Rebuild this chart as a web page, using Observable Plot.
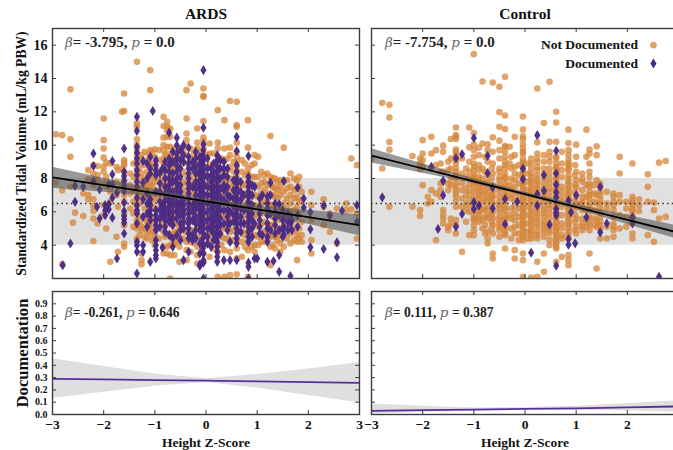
<!DOCTYPE html>
<html><head><meta charset="utf-8">
<script src="https://cdn.jsdelivr.net/npm/d3@7"></script>
<script src="https://cdn.jsdelivr.net/npm/@observablehq/plot@0.6"></script>
<style>
html,body{margin:0;padding:0;background:#fff;overflow:hidden;width:673px;height:450px}
#page{position:relative;width:673px;height:450px;overflow:hidden;font-family:"Liberation Serif",serif;color:#111}
#page>div{position:absolute}
#page svg{display:block;overflow:visible;background:transparent;max-width:none !important}
.t{font-weight:bold;font-size:15.5px;white-space:nowrap;transform:translateX(-50%)}
.n{font-weight:bold;font-size:15px;white-space:nowrap;color:#222}
.n.s{font-size:13.6px}
.n i{font-weight:normal;color:#666;font-family:"DejaVu Serif","Liberation Serif",serif;font-size:13.5px}
</style></head><body><div id="page"></div>
<script>
const ardsNotDoc=[
[-2.93,[10.65,7.75]],[-2.81,[10.6,7.3,2.85]],[-2.65,[13.35,10.35,9.3,7.5]],[-2.6,[5.35]],[-2.56,[5.95]],[-2.4,[5.75,7.1]],[-2.3,[8.5,7.95,7.0,6.75]],
[-2.2,[8.8,8.3,7.6,6.75,6.35,6.05,5.6,4.25]],[-2.12,[8.75,8.2,7.9,5.3]],[-2.0,[11.6,10.3,9.8,9.25,8.7,8.4,7.7,6.4,5.8]],[-1.95,[8.95,8.1,7.5,5.0]],[-1.87,[8.9,7.2,6.6,3.0]],[-1.75,[8.7,7.8,7.0,4.5]],[-1.72,[8.5,7.3,6.3,3.6]],
[-1.6,[13.1,12.05,9.1,8.95,8.8,8.4,7.9,7.5,7.0,6.6,5.9,5.2,4.1,3.9]],[-1.64,[12.0,8.6,7.6]],[-1.48,[8.3,7.6,7.1,6.2]],
[-1.35,[15,11.3,11.1,10.35,10,9.75,9.4,9.0,8.6,8.3,7.9,7.5,7.2,6.8,6.4,6.0,5.5,5.2,5.0,4.4]],[-1.26,[9.4,8.9,8.3,7.4,6.9,5.1,4.9,3.5,3.1,2.85]],[-1.15,[9.1,8.4,7.6,7.2,5.4,4.8,4.4]],
[-1.09,[14.5,13.3,9.7,9.3,8.8,8.0,7.5,7.1,6.6,5.2,4.7]],[-1.0,[9.75,9.3,8.6,8.1,7.8,7.2,6.7,6.2,5.6,4.6,4.0]],[-.83,[11.7,11.15,10.45,10,9.7,9.2,8.9,8.4,7.9,7.5,7.0,6.6,6.2,5.7,5.2,4.8,3.9,3.5]],
[-.76,[11.4,11.1,10.9,10.5,9.9,9.5,8.7,7.8,7.2,6.8,5.9,4.6,3.9,3.5]],[-.7,[11.0,10.5,9.9,9.2,8.6,8.0,7.4,6.4,5.4,4.7,4.0,3.4,2.0]],[-.62,[9.8,9.1,8.5,7.9,7.3,6.7,6.1,5.4,4.7,4.1,3.4]],
[-.52,[9.8,9.2,8.7,8.1,7.5,7.0,6.4,5.9,5.1,4.5,3.9,3.0]],[-.38,[13.3,11.6,10.7,10.3,9.9,9.4,8.9,8.2,7.7,7.1,6.5,6.0,5.4,4.8,4.2,3.7,3.1]],[-.3,[13.7,9.8,9.2,8.6,8.0,7.4,6.9,6.3,5.6,4.9,4.2,3.6]],
[-.17,[11,10.15,9.8,9.3,8.8,8.1,7.6,7,6.4,5.8,5.1,4.5,3.9,3.4,2.9]],[-.05,[13.4,12.95,12.9,11.45,10.45,10.25,9.85,9.3,8.8,8.2,7.6,7,6.4,5.8,5.2,4.6,4,3.5,3,1.9]],[.07,[10.1,9.5,8.8,8,7.4,6.7,6.1,5.4,4.7,4.2,3.3]],
[.23,[12.1,10.15,9.8,9.3,8.9,8.2,7.6,7.1,6.5,5.9,5.2,4.6,4,3.6,2.1]],[.36,[11.5,9.8,9.1,8.4,7.8,7.2,6.5,5.8,5,4.4,3.7,2.1]],[.47,[12.65,9.85,9.4,8.7,8,7.5,6.9,6.2,5.5,4.8,4.2,3.6,2.2]],
[.6,[12.6,11.2,11.1,10.15,9.6,9.3,9,8.7,8.4,8.1,7.8,7.5,7.2,6.8,6.4,6,5.5,5,4.4,3.8,3.2,2.25]],[.7,[9.1,8.4,7.6,6.9,6.2,5.5,4.8,4.2,3.3]],[.82,[11.5,9.85,8.6,8.3,7.8,7.2,6.6,6,5.4,4.8,4.2,3.7,2.1]],
[.95,[9.4,8.9,8.1,7.6,7,6.4,5.8,5.2,4.6,4,3.6]],[1.02,[9.3,8.1,7.5,6.9,6.3,5.7,5.1,4.5,4]],[1.14,[8.2,7.8,7.3,6.6,6,5.4,4.8,4.2]],[1.26,[10.55,8.1,7.6,7,6.4,5.8,5.2,4.5,3.9,2.8]],
[1.35,[8.0,7.4,6.9,6.3,5.6,5.1,4.5,3.8]],[1.45,[7.9,7.5,7,6.2,5.6,5,4.6,4.1,3.6]],[1.52,[9.85,7.8,7.2,6.5,5.9,5.2,4.5,3.9]],[1.65,[8.3,7.5,7,6.5,6,5.3,4.7,4.1]],[1.78,[7.9,7.4,6.9,6.3,5.7,5.1,4.6,4.2,3.1]],[1.87,[7.2,6.7,5.4,4.6,4.2]],
[2.06,[7.2,6.4,5.5,4.3,3.5]],[2.3,[6.75,6.3,5.2]],[2.42,[5.9,4.8]],[2.56,[6.2,4.1]],[2.74,[6.5,6.1]],[2.84,[6.15,9.2]],[2.95,[8.8,5.9,4.4]]];
const ardsNotDocDense=[
[-1.42,[8.9,8.1,7.3,6.6,5.9,5.1]],[-1.3,[9.2,8.6,8.1,7.7,7.1,6.5,5.7,5.3,4.6]],[-1.2,[9.6,8.8,8,7.5,6.9,6.2,5.6,5,4.5]],[-1.12,[9.5,9,8.2,7.7,7,6.4,5.8,5.1]],[-1.05,[9.6,8.9,8.3,7.6,6.9,6.3,5.5,4.9,4.3]],
[-.92,[9.7,9.1,8.5,7.9,7.3,6.8,6.2,5.5,5,4.4]],[-.8,[9.4,8.7,8.1,7.6,6.9,6.4,5.8,5.3,4.5]],[-.66,[9.5,8.8,8.2,7.7,7,6.5,5.7,5.2,4.4,4]],[-.58,[9.3,8.6,7.8,7.1,6.6,5.9,5.3,4.8,4.2]],
[-.45,[9.6,9,8.4,7.8,7.3,6.7,6.1,5.5,4.9,4.4]],[-.24,[9.5,8.9,8.3,7.7,7.2,6.6,6.1,5.4,4.8,4.1]],[-.1,[9.6,9,8.4,7.9,7.3,6.7,6.1,5.5,4.9,4.3]],[.01,[9.4,8.7,8.2,7.7,7.1,6.4,5.9,5.2,4.6,4]],[.14,[9.5,8.9,8.4,7.9,7.3,6.8,6.2,5.6,5,4.4,3.8]],
[.3,[9.2,8.6,8.1,7.5,6.9,6.3,5.7,5.1,4.5,4]],[.42,[9.2,8.5,7.9,7.3,6.7,6.1,5.6,5,4.4]],[.54,[9,8.4,7.7,7.2,6.6,6,5.4,4.9,4.3]],[.76,[8.9,8.2,7.6,7,6.4,5.8,5.2,4.6,3.9]],[.89,[8.8,8.1,7.5,6.9,6.3,5.7,5.1,4.5,3.9]],
[1.08,[8.4,7.7,7.1,6.5,5.9,5.3,4.7,4.2]],[1.2,[8.3,7.6,7.1,6.6,5.9,5.3,4.8,4.3]],[1.31,[8,7.5,7,6.4,5.7,5.2,4.6,4]],[1.4,[7.8,7.3,6.8,6.1,5.5,4.9,4.3]],[1.58,[7.9,7.4,6.8,6.2,5.6,5,4.4]],[1.72,[8,7.3,6.8,6.1,5.5,4.9,4.3]],[1.82,[8.1,7.5,6.6,5.9,5,4.4]]];
const ardsDoc=[
[-2.8,[2.8]],[-2.65,[4.1]],[-2.56,[7.55,6.6]],[-2.4,[7.5]],[-2.2,[9.5,8.75,7.85]],[-2.13,[6.3]],[-2.08,[7.35,5.6]],[-1.97,[6.4,5.8,6.1]],[-1.9,[7.65,6.45,6.15]],[-1.83,[9.05,8.25,7.65,6.85,5.65]],[-1.74,[7.15,3.2]],
[-1.6,[9.8,8.4,8.15,7.85,7.55,7.25,6.55,6.05,5.75,5.55,5.35,4.7]],[-1.35,[11.7,10.85,9.9,9.55,9.2,8.9,8.5,8.2,7.8,7.5,6.85,6.4,6.1,5.9,5.3,4.2,4.0,3.6,2.3]],[-1.23,[9.05,7.75,6.75,5.7,4.0,3.6]],
[-1.09,[9.3,8.6,8.3,6.75,6.4,6.1,5.8,5.5,3.0]],[-1.04,[12.05]],[-.98,[9.1,8.8,8.5,8.2,7.2,6.1,5.8,5.5,5.2,4.9,4.3,4,3.7,3.4,3.2]],[-.85,[8.6,6.4,6.1,5.8,3.85]],
[-.72,[10.75,9.2,8.8,8.4,8,7.6,7.3,6.9,6.6,6.3,6,5.7,5.4,4.6]],[-.57,[10.45,10,9.5,9.2,8.8,8.4,8,7.7,7.4,7,6.6,6.3,6,5.6,4.6]],[-.44,[10,9.4,9,6.7,6.4,6.1,5.8,5.4,5,3.1]],
[-.34,[9.85,9.3,8.9,8.6,8.3,8,7.7,7.4,7.1,6.8,6.5,6.2,5.9,5.6,5.3,5,4.7,4.4,3.6]],[-.26,[9,8.6,7.5,6.4,6,5.5,4.6,4.3]],[-.12,[9.3,8.9,8.5,8.2,7.9,7.6,7.3,7,6.7,6.4,6.1,5.8,5.5,5.2,4.9,4.1,3.5,2.85,2.75]],
[-.05,[14.5,11.05,10.05,9.7,9.1,8.3,7.7,7.1,6.5,5.9,5.3,4.7,4,3.5,3.1,2.95,2]],[.1,[8.6,8.2,7.8,7.4,7,6.6,6.2,5.7,5.2,4.9,3.9]],[.22,[9.4,9.1,8.7,8.4,8.1,7.8,7.5,7.2,6.9,6.6,6.3,6,5.7,5.4,5.1,4.8,4.5,4.2,3.9,3.6,3.3,3.0]],
[.35,[9,8.6,8.2,7.6,7.3,6.7,6.1,5.3,3.1]],[.47,[6.9,6,5.3,4.2,3.1]],[.6,[10.5,9.65,8.8,8.4,8,7.7,7.4,7.1,6.8,6.5,6.2,5.9,5.6,5.3,5,4.7,4.4,4.1,3.1]],[.74,[7,6.1,5.3]],
[.83,[9.35,8.1,7.8,7.5,7.2,6.9,6.6,6.3,6,5.7,5.4,5.1,4.8,4.5,4.2,2.95,2.7,2]],[.95,[7.5,5.3,3.2]],[1,[3.2]],[1.1,[7,4.6]],[1.2,[6.5,4.5,3]],[1.26,[7.75,7,5.9,4.9]],[1.32,[3.05]],
[1.43,[6.45,5.8,4.9,3.4,2.4]],[1.52,[7.85,5.65,5.1,4.65]],[1.65,[5.7,5.3,2.15]],[1.68,[5.5,4.9]],[1.79,[7.45,5.8,5.1]],[1.91,[6.8,6.25]],[2.04,[5.97,4.95,3.87]],[2.3,[6.37,3.77]],[2.42,[5.77]],[2.56,[4.17,3.27]],[2.66,[6.07]],[2.95,[6.4,5.4]]];
const ardsDocDense=[
[-1.15,[8.9,8,7.1,6.5,5.9,5.1]],[-.9,[8.3,7.7,7.2,6.6,6.1,5.6,5.1]],[-.8,[9,8.5,8,7.5,7.1,6.7,6.2,5.9,5.5,5.1,4.8]],[-.65,[9.6,9,8.3,7.8,7.2,6.8,6.4,6,5.6,5.2,4.4,3.9]],[-.5,[9.7,9.1,8.6,8.1,7.6,7.2,6.9,6.5,6.2,5.8,5.3,4.9,4.3]],
[-.2,[9.6,9.2,8.7,8.3,7.8,7.4,7,6.6,6.2,5.7,5.3,4.9,4.4]],[-.06,[9.4,8.8,8.5,8,7.4,6.8,6.2,5.6,5,4.4,3.8]],[.03,[9.2,8.6,8.1,7.5,7,6.5,6,5.5,5,4.5,4.1]],[.15,[8.9,8.4,8,7.5,7.1,6.7,6.3,5.9,5.5,5.1,4.7,4.3]],[.28,[9.1,8.6,8,7.4,6.9,6.5,6.1,5.6,5.2,4.7]],
[.42,[8.6,8.1,7.5,7,6.5,6.1,5.7,5.3,4.9]],[.54,[7.9,7.3,6.8,6.3,5.8,5.4]],[.68,[7.8,7.2,6.7,6.2,5.7,5.3,4.8]],[.9,[7.6,7,6.4,5.9,5.5,5,4.5]],[1.05,[6.8,6.3,5.9,5.5,5.1,4.7]],[1.2,[6.9,6.2,5.8,5.3,5,4.2]],[1.35,[6.5,6,5.6,5.2,4.7]],[1.5,[6.1,5.5,5,4.5]],[1.6,[5.9,5.4,4.9]]];
const controlNotDoc=[
[-3,[9.2]],[-2.79,[12.54,8.6]],[-2.65,[12.42,11.66,10.19,9.73,6.3]],[-2.2,[9.35,6.3]],[-2.05,[9.2,8.9,8.55,6.1,5.75]],[-2,[10.3,9.5,9.1,8.7,7.6]],[-1.9,[6.5,6.9]],[-1.83,[10.5,9.5,8.6,7.3,6.6]],[-1.74,[9.7,8.8,7.1,4.3]],[-1.65,[8.9,8.4,7.7,7.3,6.9]],
[-1.6,[9.97,9.6,8.4,7.8,6.1,5.8,5.6,5.3]],[-1.5,[9,8.5,7.7,7.3,5.1,4.9]],[-1.45,[10.37,9.2,8.6,8,7.6,5.6,5.3]],[-1.35,[11.06,10.6,10.5,10.37,9.73,9.6,9.4,9.2,8.9,8.4,8,7.7,7.3,6.9,6.3,5.5,5.2,4.7]],[-1.23,[9.2,8.3,7.7,7.3,6.8,6.3,3.6]],
[-1.09,[11.06,9.87,9,8.4,8,7.6,7.2,6.8,6.4,6,4.6]],[-1,[15.46,10.73,10.03,9.7,9.3,8.9,8.5,8.2,7.9,7.5,7.2,6.9,5.8,5.5,5.2,4.9,4.6]],[-.9,[9.85,9.4,8.8,8.1,7.6,7.2,6.8,6.3,5.8,5.4]],[-.83,[13.82,10.1,8.6,8,7.5,7.1,6.6,6.1,5.5,5]],
[-.73,[10.05,9.7,9,8.2,7.8,7.4,7,6.7,6.3,5.9,5.6,4.8,4.4,4.1]],[-.63,[13.76,10.47,9.6,8.9,8.3,7.6,7.2,6.9,6.5,6,5.6,5.2,4.7,3.5,3.2]],[-.5,[13.5,11.98,11.1,10.27,9.7,8.6,8.1,7.6,7.2,6.6,6.2,5.7,5.3,4.9,4.5]],
[-.39,[14.1,11.78,10.97,9.95,9.6,9.3,9,8.6,8.3,8,7.7,7.3,7,6.7,6.4,6.1,5.8,5.5,5.2,4.9,4.6,3.8]],[-.3,[9.9,8.9,7.6,7,5.8]],[-.2,[10.5,9.4,8.7,8.3,7.9,7.5,7.1,6.7,6.3,5.9,5.5,5.1,4.7,3.7,3.2]],
[-.04,[11.72,10.93,10.53,10.37,10.05,9.8,9.5,9.2,8.9,8.5,8.2,7.8,7.5,7.2,6.9,6.6,6.3,6,5.7,5.4,5.1,4.8,4.5,3.5,3.1,2.1]],[.12,[9.2,8.6,8.1,7.7,7.3,6.9,6.5,6,5.6,5.2,4.8,4.4,2.05]],[.24,[13.4,10.17,9.5,9,8.5,8,7.6,7.2,6.7,6.3,5.9,5.5,5.1,4.6,3,2.1]],
[.37,[11.33,9.4,8.6,8,7.4,7,6.6,6.1,5.7,5.2,4.8,3.5,2.4]],[.48,[13.8,10.2,9.6,9,8.3,7.7,7.2,6.7,6.2,5.6,5.1,4.7,4]],[.61,[12,11.36,10.2,9.3,8.9,8.6,8.3,8,7.7,7.4,7.1,6.8,6.5,6.2,5.9,5.6,5.3,5,4.7,4.4,4.1,3.8,3]],
[.72,[9.6,8.5,7.5,6.6,5.3,4.6,3.3]],[.85,[10.93,10.13,9.7,9.4,9.1,8.8,8.5,8.2,7.8,7.4,7.1,6.8,6.5,6.2,5.9,5.6,5.3,5,4.6,3.4,3.1,2.8]],[1,[10.03,9.3,8.4,7.9,7.5,7,6.5,5.6,5.1,4.7]],
[1.12,[8.3,8,6.6,6.3,5.3,4.9]],[1.2,[10.93,9.3,7.6,6.9,6.1,5.5,5.1]],[1.26,[9.73,9.5,8.9,8.4,7.5,7,6.5,6.1,5.4,4.9,3.5]],[1.4,[9.93,9.4,7.9,7,6.5,5.5,5.1,2.6]],[1.47,[7.5,7,6.5,6,5.4,5,4.4]],[1.6,[7.2,6.5,6.2,5.1,4.4]],
[1.73,[7.1,6.6,6.1,5.3,4.9,4.5]],[1.85,[9.3,8.3,7,6.6,5.8,5]],[1.98,[6.6,6.2,5.7,5.1]],[2.1,[8.9,6.7,6.4,6.1,5.7,5.3,4.7,4.4]],[2.23,[6.75,6.4,6.05]],[2.4,[8.25,7.5,6.6,4.6]],[2.52,[6.55,6.1,4.2]],[2.62,[8.95,5.6]],[2.75,[9.05,5.7]]];
const controlNotDocDense=[
[-1.35,[9.1,8.6,8.2,7.5,7.1,6.6]],[-1.15,[8.6,8.1,7.4,7,6.5,6.1,5.4]],[-1,[8.7,8.1,7.7,6.7,6.4,6.1,5.6]],[-.9,[8.5,7.9,7.4,7,6.5,6,5.6]],[-.78,[9.3,8.4,7.7,7.2,6.8,6.2,5.7,5.2,4.7]],[-.65,[8.6,8,7.4,7,6.7,6.2,5.8,5.4,5]],[-.5,[9.2,8.4,7.9,7.4,6.9,6.4,6,5.5,5.1]],
[-.39,[9.9,8.8,8.1,7.5,6.9,6.2,5.6,5.1,4.7]],[-.27,[9.3,8.6,8,7.4,6.8,6.2,5.6,5,4.4]],[-.12,[8.8,8.2,7.7,7.1,6.7,6.2,5.7,5.2,4.7,4.3]],[-.04,[9.6,9,8.7,8.3,8,7.6,7.3,7,6.7,6.4,6.1,5.8,5.5,5.2,4.9,4.6,4.3]],[.05,[8.9,8.3,7.8,7.3,6.8,6.3,5.8,5.3,4.8,4.4]],[.12,[8.9,8.3,7.9,7.5,7.1,6.7,6.2,5.8,5.4,5,4.6]],
[.24,[9.2,8.7,8.2,7.8,7.4,7,6.5,6.1,5.7,5.3,4.8,4.4]],[.37,[9,8.3,7.7,7.2,6.8,6.3,5.9,5.4,5,4.5]],[.48,[9.3,8.6,8,7.4,6.9,6.4,5.9,5.3,4.9,4.3]],[.61,[9.2,8.7,8.4,8.1,7.8,7.5,7.2,6.9,6.6,6.3,6,5.7,5.4,5.1,4.8,4.5,4.2,3.9]],[.72,[8.9,8.1,7.2,6.9,6.3,5.8,5,4.4]],[.85,[8.9,8.6,8,7.6,7.3,7,6.7,6.4,6.1,5.8,5.5,5.2,4.8,4.4]],
[.98,[8.8,8.2,7.6,7.2,6.7,6.2,5.8,5.4,4.9]],[1.12,[7.8,7.3,6.9,6.5,6.1,5.6,5.1]],[1.26,[8.1,7.7,7.2,6.8,6.3,5.7,5.2]],[1.35,[7.6,7.1,6.6,6.1,5.6,5.2]],[1.47,[7.7,7.2,6.7,6.2,5.7,5.2]],[1.73,[6.9,6.4,5.7,5.1]],[2.1,[6.9,6.55,6.2,5.9,5.5]]];
const controlDoc=[
[-2.79,[6.87]],[-1.83,[8.7]],[-1.7,[4.97]],[-1.6,[7.86,7]],[-1.35,[9.22,5.1]],[-1.23,[9.46,5.87]],[-1,[10.43,6.57,6.17]],[-.9,[6.37]],[-.73,[9.36,8.32]],[-.63,[7.47,6.21]],[-.39,[6.77,5.27]],[-.15,[6.61]],[-.04,[8.6,7.96]],[.12,[3.55]],
[.24,[10.6,7.07,6.37]],[.37,[8.2,7.27]],[.48,[5.23]],[.61,[9.66,8.3,7.63,7.17,6.87,6.17,5.95,5.8,2.77]],[.85,[6.67,4.37,4.03]],[.9,[5.97]],[.98,[4.11]],[1,[7]],[1.2,[5.67]],[1.47,[7.5,4.77]],[1.6,[5.3]],[2.1,[5.67,5.3]],[2.62,[2.1]]];

const tickRange=[-3,-2,-1,0,1,2,3];
const targetBand=[4,8];
const targetMean=[6.5];
const ciZ=[-3,-2,-1,0,1,2,3];
const ardsFit=[8.07,7.6,7.12,6.63,6.15,5.68,5.2];
const ardsLo=[7.42,7.18,6.9,6.51,5.93,5.26,4.57];
const ardsHi=[8.68,8.02,7.34,6.75,6.37,6.1,5.83];
const controlFit=[9.37,8.6,7.83,7.06,6.29,5.52,4.75];
const controlLo=[8.93,8.32,7.68,6.95,6.14,5.24,4.35];
const controlHi=[9.79,8.88,7.98,7.17,6.44,5.8,5.15];
const ardsDocFit=[.29,.285,.28,.275,.27,.264,.257];
const ardsDocLo=[.13,.18,.23,.26,.215,.155,.095];
const ardsDocHi=[.453,.39,.33,.29,.325,.37,.42];
const controlDocFit=[.03,.035,.04,.045,.05,.058,.066];
const controlDocLo=[.004,.016,.028,.036,.035,.028,.02];
const controlDocHi=[.085,.068,.052,.055,.068,.09,.112];
const volumeTicks=[2,4,6,8,10,12,14,16];
const volumeLabels=[4,6,8,10,12,14,16];
const docTicks=[0,.1,.2,.3,.4,.5,.6,.7,.8,.9];
const legendLabels=["Not Documented","Documented"];
const legendY=[16,14.9];

const ORANGE="#d5863a",PURPLE="#4a2a84",FRAME="#3c3c3c";
const thinDiamond={draw(c,s){const r=Math.sqrt(s);c.moveTo(0,-r*.92);c.lineTo(r*.56,0);c.lineTo(0,r*.92);c.lineTo(-r*.56,0);c.closePath();}};
const flat=cols=>cols.flatMap(([z,ys])=>ys.map(y=>({z,y})));
const tbl=(f,l,h)=>ciZ.map((z,i)=>({z,f:f[i],l:l[i],h:h[i]}));
const page=document.getElementById("page");
function place(el,left,top){const d=document.createElement("div");d.style.left=left+"px";d.style.top=top+"px";d.append(el);page.append(d);}
function note(html,left,top,cls){const d=document.createElement("div");d.className="n"+(cls?" "+cls:"");d.style.left=left+"px";d.style.top=top+"px";d.innerHTML=html;page.append(d);}
function title(t,left,top){const d=document.createElement("div");d.className="t";d.style.left=left+"px";d.style.top=top+"px";d.textContent=t;page.append(d);}
function scatter({left,width,mL,mR,notDoc,doc,fit,lo,hi,yTicks,ylabels,ylabel,xTicks,legend}){
  const extra=[];
  if(ylabels) extra.push(Plot.axisY({ticks:ylabels,tickFormat:"d",tickSize:0,tickPadding:5,label:null,fontSize:14,fontWeight:"bold"}),
    Plot.axisY({ticks:[],tickSize:0,label:ylabel,labelAnchor:"center",labelArrow:"none",labelOffset:36,fontSize:13.6,fontWeight:"bold"}));
  if(legend) extra.push(
    Plot.text([legendLabels[0]],{text:d=>d,x:2.21,y:legendY[0],textAnchor:"end",fontSize:13.5,fontWeight:"bold",fill:"#111"}),
    Plot.text([legendLabels[1]],{text:d=>d,x:2.21,y:legendY[1],textAnchor:"end",fontSize:13.5,fontWeight:"bold",fill:"#111"}),
    Plot.dot([legendY[0]],{x:2.51,y:d=>d,r:3.3,fill:ORANGE,fillOpacity:.75}),
    Plot.dot([legendY[1]],{x:2.51,y:d=>d,r:3.1,fill:PURPLE,symbol:thinDiamond}));
  const plot=Plot.plot({width,height:290,marginLeft:mL,marginRight:mR,marginTop:28,marginBottom:12,
    x:{domain:[-3,3],axis:null},y:{domain:[2,17],axis:null},
    style:{fontFamily:"Liberation Serif",color:"#111",background:"transparent"},
    marks:[
      Plot.rect([targetBand],{y1:d=>d[0],y2:d=>d[1],fill:"#e0e0e0"}),
      Plot.dot(flat(notDoc),{x:"z",y:"y",r:3.3,fill:ORANGE,fillOpacity:.75,clip:true}),
      Plot.dot(flat(doc),{x:"z",y:"y",r:3.1,fill:PURPLE,fillOpacity:.97,symbol:thinDiamond,clip:true}),
      Plot.ruleY(targetMean,{stroke:"#333",strokeWidth:1.4,strokeDasharray:"1.5,3.2"}),
      Plot.areaY(tbl(fit,lo,hi),{x:"z",y1:"l",y2:"h",fill:"#555",fillOpacity:.6,clip:true}),
      Plot.lineY(tbl(fit,lo,hi),{x:"z",y:"f",stroke:"#000",strokeWidth:1.8,clip:true}),
      Plot.tickX(xTicks,{x:d=>d,insetTop:246,stroke:FRAME}),Plot.tickX(xTicks,{x:d=>d,insetBottom:246,stroke:FRAME}),
      Plot.tickY(yTicks,{y:d=>d,insetRight:width-mL-mR-4,stroke:FRAME}),Plot.tickY(yTicks,{y:d=>d,insetLeft:width-mL-mR-4,stroke:FRAME}),
      ...extra,
      Plot.frame({stroke:FRAME,strokeWidth:1.4})
    ]});
  place(plot,left,0);
}
function logit({left,width,mL,mR,fit,lo,hi,yl,xTicks}){
  const extra=[];
  if(yl) extra.push(Plot.axisY({ticks:docTicks,tickFormat:".1f",tickSize:0,tickPadding:5,label:null,fontSize:10,fontWeight:"bold"}),
    Plot.axisY({ticks:[],tickSize:0,label:"Documentation",labelAnchor:"center",labelArrow:"none",labelOffset:36,fontSize:16.6,fontWeight:"bold"}));
  const plot=Plot.plot({width,height:170,marginLeft:mL,marginRight:mR,marginTop:11,marginBottom:36,
    x:{domain:[-3,3],axis:null},y:{domain:[0,1],axis:null},
    style:{fontFamily:"Liberation Serif",color:"#111",background:"transparent"},
    marks:[
      Plot.areaY(tbl(fit,lo,hi),{x:"z",y1:"l",y2:"h",fill:"#9a9a9a",fillOpacity:.32,clip:true}),
      Plot.lineY(tbl(fit,lo,hi),{x:"z",y:"f",stroke:"#5b2d9a",strokeWidth:1.8,clip:true}),
      Plot.tickX(tickRange,{x:d=>d,insetTop:119,stroke:FRAME}),Plot.tickX(tickRange,{x:d=>d,insetBottom:119,stroke:FRAME}),
      Plot.tickY(docTicks,{y:d=>d,insetRight:width-mL-mR-4,stroke:FRAME}),Plot.tickY(docTicks,{y:d=>d,insetLeft:width-mL-mR-4,stroke:FRAME}),
      Plot.axisX({ticks:xTicks,tickFormat:"d",tickSize:0,tickPadding:5,label:"Height Z-Score",labelAnchor:"center",labelArrow:"none",labelOffset:32,fontSize:13.5,fontWeight:"bold"}),
      ...extra,
      Plot.frame({stroke:FRAME,strokeWidth:1.4})
    ]});
  place(plot,left,280);
}
const rightTicks=[-3,-2,-1,0,1,2];
scatter({left:0,width:366,mL:52,mR:7,notDoc:[...ardsNotDoc,...ardsNotDocDense],doc:[...ardsDoc,...ardsDocDense],fit:ardsFit,lo:ardsLo,hi:ardsHi,yTicks:volumeTicks,ylabels:volumeLabels,ylabel:"Standardized Tidal Volume (mL/kg PBW)",xTicks:tickRange});
scatter({left:360,width:320,mL:11,mR:2,notDoc:[...controlNotDoc,...controlNotDocDense],doc:controlDoc,fit:controlFit,lo:controlLo,hi:controlHi,yTicks:volumeTicks,xTicks:tickRange,legend:true});
logit({left:0,width:366,mL:52,mR:7,fit:ardsDocFit,lo:ardsDocLo,hi:ardsDocHi,yl:true,xTicks:tickRange});
logit({left:360,width:320,mL:11,mR:2,fit:controlDocFit,lo:controlDocLo,hi:controlDocHi,yl:false,xTicks:rightTicks});
title("ARDS",206,5);title("Control",525,5);
note("<i>β</i>= -3.795, <i>p</i> = 0.0",65,34);
note("<i>β</i>= -7.754, <i>p</i> = 0.0",385,34);
note("<i>β</i>= -0.261, <i>p</i> = 0.646",65,304,"s");
note("<i>β</i>= 0.111, <i>p</i> = 0.387",385,304,"s");
</script></body></html>
